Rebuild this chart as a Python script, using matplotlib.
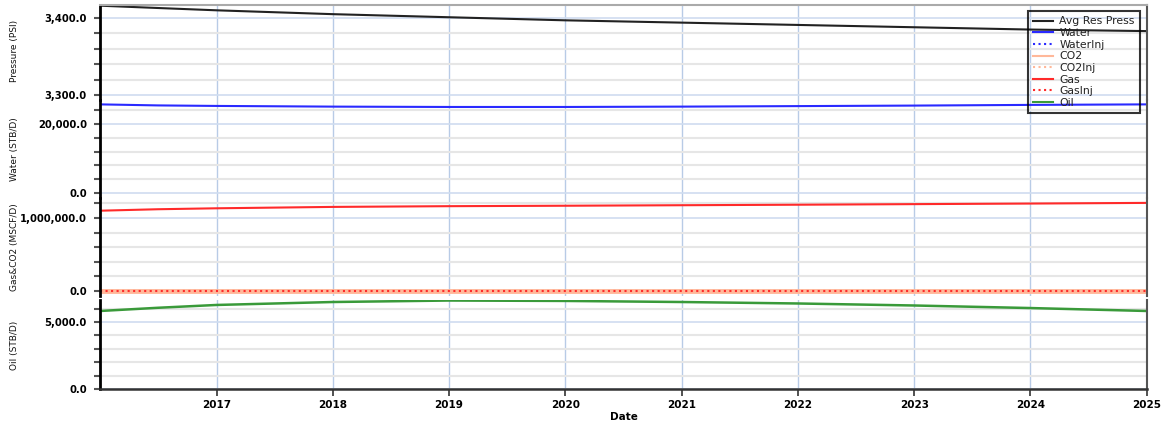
import numpy as np
import matplotlib
matplotlib.use("Agg")
import matplotlib.pyplot as plt
import matplotlib.dates as mdates
from matplotlib.lines import Line2D
from matplotlib.ticker import MultipleLocator, FuncFormatter, NullFormatter, FixedLocator

# Forecast profile, sampled at the start of each year (plus mid-2016)
dates = np.array(['2016-01-01', '2016-07-01', '2017-01-01', '2018-01-01', '2019-01-01',
                  '2020-01-01', '2021-01-01', '2022-01-01', '2023-01-01', '2024-01-01',
                  '2025-01-01'], dtype='datetime64[D]')
avg_res_press = [3416, 3413, 3410, 3405, 3401, 3397, 3394, 3391, 3388, 3385, 3383]
water_rate = [25700, 25400, 25250, 25050, 24950, 24950, 25050, 25200, 25350, 25550, 25700]
water_inj = [0] * len(dates)
co2_rate = [0] * len(dates)
co2_inj = [0] * len(dates)
gas_rate = [1100000, 1120000, 1133000, 1152000, 1162000, 1168000, 1175000, 1182000,
            1190000, 1198000, 1207000]
gas_inj = [0] * len(dates)
oil_rate = [5820, 6060, 6270, 6490, 6600, 6570, 6490, 6380, 6230, 6040, 5820]
tick_years = np.array(['%d-01-01' % y for y in range(2017, 2026)], dtype='datetime64[D]')

W, H = 1164, 421
fig = plt.figure(figsize=(W / 100, H / 100), dpi=100)

x0, x1 = 100, 1147


def panel(top, bottom):
    return fig.add_axes([x0 / W, 1 - bottom / H, (x1 - x0) / W, (bottom - top) / H])


ax_p = panel(5, 100)
ax_w = panel(100, 198)
ax_g = panel(198, 296)
ax_o = panel(300, 389)

c_press = '#222222'
c_water = '#2a2aff'
c_co2 = '#ffb89a'
c_gas = '#ff2a2a'
c_oil = '#3a9a3a'

ax_p.plot(dates, avg_res_press, color=c_press, lw=1.5)
ax_w.plot(dates, water_rate, color=c_water, lw=1.5)
ax_w.plot(dates, water_inj, color=c_water, lw=1.5, ls=':', alpha=0)
ax_g.plot(dates, co2_rate, color=c_co2, lw=3.5)
ax_g.plot(dates, co2_inj, color=c_co2, lw=1.5, ls=':')
ax_g.plot(dates, gas_rate, color=c_gas, lw=1.5)
ax_g.plot(dates, gas_inj, color=c_gas, lw=1.5, ls=':')
ax_o.plot(dates, oil_rate, color=c_oil, lw=1.8)

fmt = FuncFormatter(lambda v, p: '{:,.1f}'.format(v))
setup = [
    (ax_p, (3293.5, 3416.9), 100, 20),
    (ax_w, (-1450, 26970), 20000, 4000),
    (ax_g, (-68500, 1274000), 1000000, 200000),
    (ax_o, (0, 6640), 5000, 1000),
]
for ax, ylim, major, minor in setup:
    ax.set_ylim(*ylim)
    ax.set_xlim(np.datetime64('2016-01-01'), np.datetime64('2025-01-01'))
    ax.yaxis.set_major_locator(MultipleLocator(major))
    ax.yaxis.set_minor_locator(MultipleLocator(minor))
    ax.yaxis.set_major_formatter(fmt)
    ax.yaxis.set_minor_formatter(NullFormatter())
    ax.xaxis.set_major_locator(FixedLocator(mdates.date2num(tick_years)))
    ax.xaxis.set_major_formatter(mdates.DateFormatter('%Y'))
    ax.grid(True, which='minor', axis='y', color='#e6e6e6', lw=1.5, zorder=0)
    ax.grid(True, which='major', axis='y', color='#cfdcf0', lw=1.2, zorder=0)
    ax.grid(True, which='major', axis='x', color='#b8cbe6', lw=1, zorder=0)
    ax.set_axisbelow(True)
    ax.tick_params(axis='y', which='both', direction='out', length=4, width=1.5,
                   color='#555555', pad=5.5)
    ax.tick_params(axis='y', labelsize=7.2)
    for t in ax.get_yticklabels():
        t.set_fontweight('bold')
    ax.spines['left'].set_color('black')
    ax.spines['left'].set_linewidth(2)
    ax.spines['right'].set_color('#555555')
    ax.spines['right'].set_linewidth(1.5)
    ax.spines['top'].set_visible(False)
    ax.spines['bottom'].set_visible(False)
    ax.patch.set_alpha(0)
    if ax is not ax_o:
        ax.tick_params(axis='x', which='both', length=0, labelbottom=False)

ax_p.spines['top'].set_visible(True)
ax_p.spines['top'].set_color('#aaaaaa')
ax_p.spines['top'].set_linewidth(1.5)

ax_o.spines['bottom'].set_visible(True)
ax_o.spines['bottom'].set_color('#333333')
ax_o.spines['bottom'].set_linewidth(1.8)
ax_o.tick_params(axis='x', direction='out', length=5, width=1.2, color='#333333',
                 labelsize=7.5, pad=3)
for t in ax_o.get_xticklabels():
    t.set_fontweight('bold')
ax_o.set_xlabel('Date', fontsize=7.5, fontweight='bold', labelpad=1)

# axis titles sit in a narrow column at the far left
ylabels = [('Pressure (PSI)', 51), ('Water (STB/D)', 149),
           ('Gas&CO2 (MSCF/D)', 247), ('Oil (STB/D)', 345)]
for text, yc in ylabels:
    fig.text(15 / W, 1 - yc / H, text, rotation=90, ha='center', va='center',
             fontsize=6.5, color='#111111')

handles = [
    Line2D([], [], color=c_press, lw=1.5, label='Avg Res Press'),
    Line2D([], [], color=c_water, lw=1.5, label='Water'),
    Line2D([], [], color=c_water, lw=1.5, ls=':', label='WaterInj'),
    Line2D([], [], color=c_co2, lw=1.5, label='CO2'),
    Line2D([], [], color=c_co2, lw=1.5, ls=':', label='CO2Inj'),
    Line2D([], [], color=c_gas, lw=1.5, label='Gas'),
    Line2D([], [], color=c_gas, lw=1.5, ls=':', label='GasInj'),
    Line2D([], [], color=c_oil, lw=1.5, label='Oil'),
]
leg = fig.legend(handles=handles, loc='upper left',
                 bbox_to_anchor=(1028 / W, 1 - 11 / H), fontsize=7.8,
                 frameon=True, fancybox=False, edgecolor='black', facecolor='none',
                 framealpha=None, borderpad=0.5, labelspacing=0.15,
                 handlelength=1.8, handletextpad=0.6, borderaxespad=0)
leg.get_frame().set_linewidth(1.5)
for t in leg.get_texts():
    t.set_color('#222222')

fig.savefig('out.png', dpi=100, facecolor='white')
